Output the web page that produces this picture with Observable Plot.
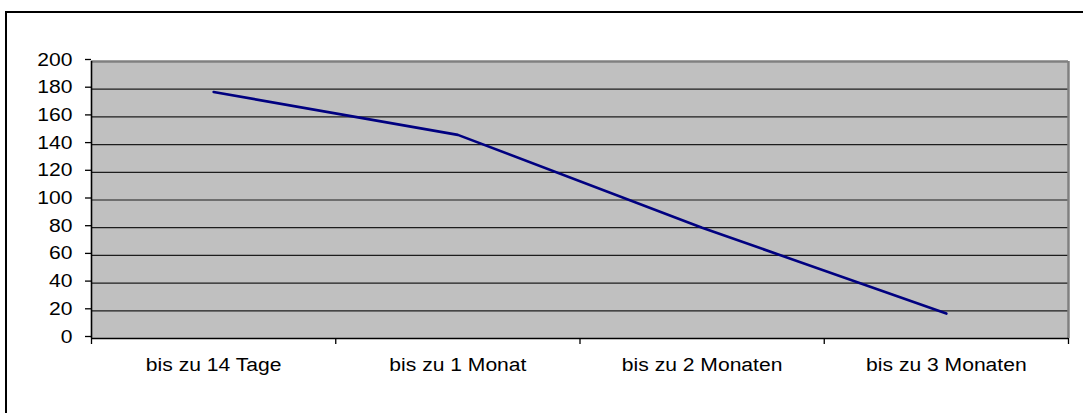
<!DOCTYPE html>
<html><head><meta charset="utf-8">
<script src="https://cdn.jsdelivr.net/npm/d3@7"></script>
<script src="https://cdn.jsdelivr.net/npm/@observablehq/plot@0.6"></script>
<style>
html,body{margin:0;padding:0;background:#fff;}
#wrap{position:relative;width:1083px;height:413px;overflow:hidden;}
#border{position:absolute;left:5px;top:11px;width:2000px;height:2000px;border-left:2px solid #000;border-top:2px solid #000;}
#chart{position:absolute;left:0;top:0;}
</style></head><body>
<div id="wrap"><div id="border"></div><div id="chart"></div></div>
<script>
const categories = ["bis zu 14 Tage", "bis zu 1 Monat", "bis zu 2 Monaten", "bis zu 3 Monaten"];
const values = [178, 147, 80, 18];
const yTicks = [0, 20, 40, 60, 80, 100, 120, 140, 160, 180, 200];

const data = categories.map((c, i) => ({pos: i + 0.5, category: c, value: values[i]}));
const boundaries = d3.range(categories.length + 1);
const centers = categories.map((c, i) => i + 0.5);
const yMax = yTicks[yTicks.length - 1];

const chart = Plot.plot({
  width: 1083, height: 413,
  marginLeft: 91, marginRight: 15, marginTop: 61, marginBottom: 75,
  style: {fontFamily: "'Liberation Sans', Arial, sans-serif", fontSize: "19px", background: "transparent", color: "#000", overflow: "visible"},
  x: {domain: [0, categories.length], axis: null, label: null},
  y: {domain: [0, yMax], axis: null, label: null},
  marks: [
    Plot.frame({fill: "#c0c0c0", stroke: "none"}),
    Plot.ruleY(yTicks.filter(t => t > 0 && t < yMax), {stroke: "#000", strokeOpacity: 0.85, strokeWidth: 1.2}),
    Plot.ruleY([yMax], {stroke: "#808080", strokeWidth: 2.5}),
    Plot.ruleX([categories.length], {stroke: "#808080", strokeWidth: 2.5}),
    Plot.line(data, {x: "pos", y: "value", stroke: "#000080", strokeWidth: 2.6}),
    Plot.ruleY([0], {stroke: "#000", strokeWidth: 1.6}),
    Plot.ruleX([0], {stroke: "#000", strokeWidth: 1.6}),
    Plot.axisY({ticks: yTicks, tickSize: 6, tickPadding: 13, dy: -2, label: null, strokeWidth: 1.3}),
    Plot.axisX({ticks: boundaries, tickSize: 6, tickFormat: () => "", label: null, strokeWidth: 1.3}),
    Plot.axisX({ticks: centers, tickSize: 0, tickPadding: 19, tickFormat: d => categories[Math.floor(d)], label: null})
  ]
});
document.getElementById("chart").appendChild(chart);

// horizontal stretch of the labels about their anchor, as in the reference rendering
const sx = 1.11;
chart.querySelectorAll("text").forEach(t => {
  const xl = t.x.baseVal, yl = t.y.baseVal;
  const x = xl.numberOfItems ? xl.getItem(0).value : 0;
  const y = yl.numberOfItems ? yl.getItem(0).value : 0;
  const c = t.transform.baseVal.consolidate();
  const m = c ? c.matrix : null;
  if (!isFinite(x) || !isFinite(y)) return;
  const base = m ? `matrix(${m.a},${m.b},${m.c},${m.d},${m.e},${m.f}) ` : "";
  t.setAttribute("transform", `${base}translate(${x},${y}) scale(${sx},1) translate(${-x},${-y})`);
});
</script>
</body></html>
